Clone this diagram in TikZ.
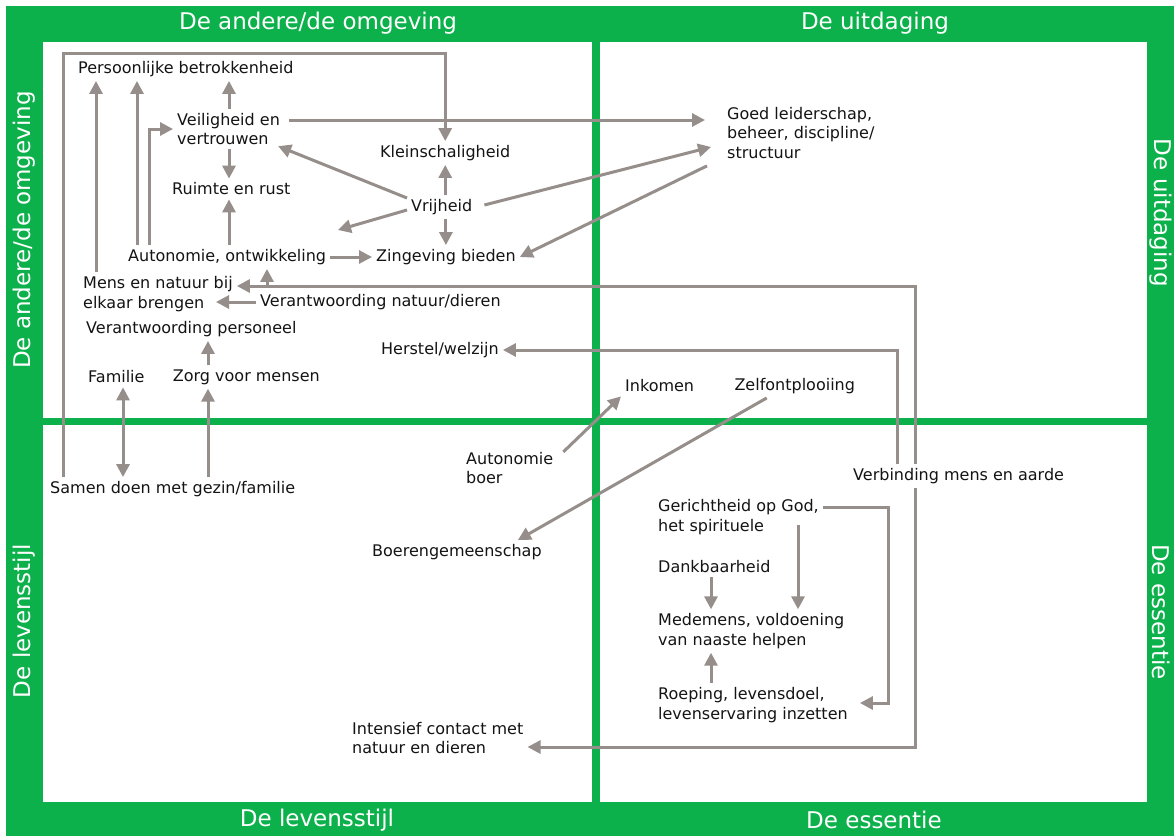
\documentclass[tikz,border=0pt]{standalone}
\usepackage{fontspec}
\setmainfont{DejaVu Sans}
\usepackage{tikz}
\usetikzlibrary{arrows.meta, positioning, calc}

\definecolor{framegreen}{RGB}{13,177,75}
\definecolor{linkgray}{RGB}{150,142,138}
\definecolor{inktext}{RGB}{20,20,20}

\tikzset{
    concept/.style={
        anchor=west,
        inner sep=4pt,
        align=left,
        text=inktext,
        font=\fontsize{16}{19.5}\selectfont
    },
    header/.style={
        text=white,
        inner sep=0pt,
        font=\fontsize{23}{27}\selectfont
    },
    panel/.style={
        fill=white,
        draw=none
    },
    link/.style={
        draw=linkgray,
        line width=3pt,
        -{Triangle[length=13pt,width=13pt]}
    },
    twolink/.style={
        link,
        {Triangle[length=13pt,width=13pt]}-{Triangle[length=13pt,width=13pt]}
    }
}

\begin{document}
\begin{tikzpicture}[x=1pt, y=-1pt, node distance=20pt]

\useasboundingbox (0,0) rectangle (1174,836);

% frame with the four quadrants
\fill[framegreen] (6,6) rectangle (1174,836);
\fill[panel] (43,42) rectangle (592,418);
\fill[panel] (600,42) rectangle (1147,418);
\fill[panel] (43,425) rectangle (592,802);
\fill[panel] (600,425) rectangle (1147,802);

\node[header] (hTL) at (318,23) {De andere/de omgeving};
\node[header] (hTR) at (875,23) {De uitdaging};
\node[header] (hBL) at (317,820) {De levensstijl};
\node[header] (hBR) at (874,820) {De essentie};
\node[header, rotate=90] (vTL) at (24,230) {De andere/de omgeving};
\node[header, rotate=90] (vBL) at (24,621) {De levensstijl};
\node[header, rotate=-90] (vTR) at (1161,213) {De uitdaging};
\node[header, rotate=-90] (vBR) at (1161,612) {De essentie};

% de andere/de omgeving
\node[concept] (pb) at (74,69) {Persoonlijke betrokkenheid};
\node[concept] (veil) at (173,129) {Veiligheid en\\vertrouwen};
\node[concept] (ruimte) at (168,189) {Ruimte en rust};
\node[concept] (klein) at (376,153) {Kleinschaligheid};
\node[concept] (vrij) at (407,207) {Vrijheid};
\node[concept] (auto) at (124,257) {Autonomie, ontwikkeling};
\node[concept] (zin) at (372,257) {Zingeving bieden};
\node[concept] (mens) at (79,294) {Mens en natuur bij\\elkaar brengen};
\node[concept] (vnat) at (256,302) {Verantwoording natuur/dieren};
\node[concept] (vpers) at (82,329) {Verantwoording personeel};
\node[concept] (herstel) at (377,350) {Herstel/welzijn};
\node[concept] (familie) at (84,377) {Familie};
\node[concept, right=20pt of familie] (zorg) {Zorg voor mensen};

% de uitdaging
\node[concept] (goed) at (723,133) {Goed leiderschap,\\beheer, discipline/\\structuur};
\node[concept] (inkomen) at (621,386) {Inkomen};
\node[concept, right=32pt of inkomen] (zelf) {Zelfontplooiing};

% de levensstijl
\node[concept] (aboer) at (462,468) {Autonomie\\boer};
\node[concept] (samen) at (46,489) {Samen doen met gezin/familie};
\node[concept] (boeren) at (368,552) {Boerengemeenschap};
\node[concept] (intens) at (348,738) {Intensief contact met\\natuur en dieren};

% de essentie
\node[concept] (verb) at (849,476) {Verbinding mens en aarde};
\node[concept] (god) at (654,517) {Gerichtheid op God,\\het spirituele};
\node[concept] (dank) at (654,567) {Dankbaarheid};
\node[concept] (mede) at (654,631) {Medemens, voldoening\\van naaste helpen};
\node[concept] (roep) at (654,705) {Roeping, levensdoel,\\levenservaring inzetten};

\coordinate (loop) at (63,53);
\coordinate (vrijend) at (338,230);
\coordinate (branch) at (267,286);
\coordinate (godturn) at (888,507);
\coordinate (godside) at (798,525);

\draw[link] (loop |- samen.north) -- (loop) -| (klein);
\draw[link] (96,0 |- mens.north) -- (96,0 |- pb.south);
\draw[link] (137,0 |- auto.north) -- (137,0 |- pb.south);
\draw[link] (149,0 |- auto.north) |- (veil.west);
\draw[link] (229,0 |- veil.north) -- (229,0 |- pb.south);
\draw[link] (229,0 |- veil.south) -- (229,0 |- ruimte.north);
\draw[link] (229,0 |- auto.north) -- (229,0 |- ruimte.south);
\draw[link] ($(veil.east)+(5,-9)$) -- ($(goed.west)+(-18,-13)$);
\draw[link] ([yshift=9pt]vrij.west) -- ($(veil.south east)+(-6,-3)$);
\draw[link] ([yshift=-3pt]vrij.west) -- (vrijend);
\draw[link] (klein.south |- vrij.north) -- (klein.south);
\draw[link] (zin.north |- vrij.south) -- (zin.north);
\draw[link] ($(vrij.east)+(8,-2)$) -- ($(goed.west)+(-12,14)$);
\draw[link] ($(goed.south west)+(-16,3)$) -- (zin.east);
\draw[link] (auto) -- (zin);
\draw[link] (915,0 |- verb.north) |- (mens.east |- branch);
\draw[link] (branch) -- (branch |- auto.south);
\draw[link] (vnat.west) -- ($(vnat.west)+(-40,0)$);
\draw[link] (208,0 |- zorg.north) -- (208,0 |- vpers.south);
\draw[twolink] (123,0 |- familie.south) -- (123,0 |- samen.north);
\draw[link] (208,0 |- samen.north) -- (208,0 |- zorg.south);
\draw[link] (897,0 |- verb.north) |- (herstel);
\draw[link] (915,0 |- verb.south) |- (intens.east |- 0,747);
\draw[link] ($(aboer.north east)+(6,4)$) -- (inkomen.south west);
\draw[link] ($(zelf.south)+(-28,0)$) -- ($(boeren.north east)+(-28,0)$);
\draw[link] (god.east |- godturn) -- (godturn) |- ($(roep.east)+(8,-2)$);
\draw[link] (godside) -- (godside |- mede.north);
\draw[link] (711,0 |- dank.south) -- (711,0 |- mede.north);
\draw[link] (711,0 |- roep.north) -- (711,0 |- mede.south);

\end{tikzpicture}
\end{document}
